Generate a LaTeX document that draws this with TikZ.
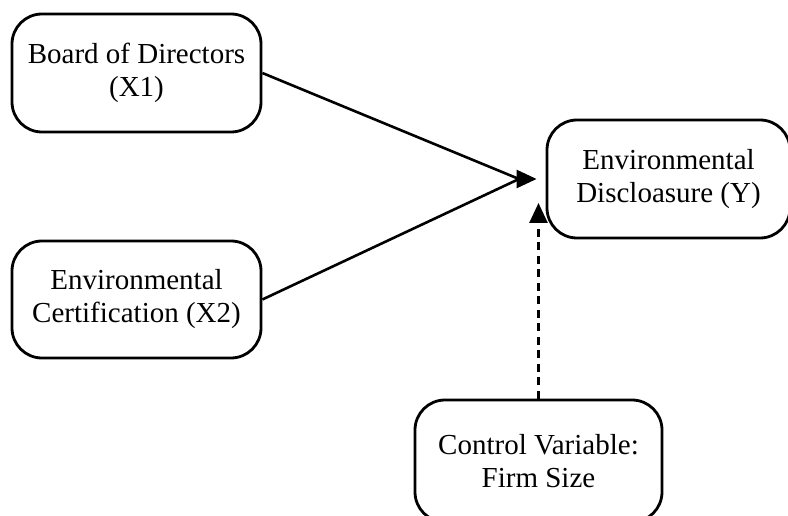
\documentclass[tikz,border=0pt]{standalone}
\usepackage{fontspec}
\setmainfont{Liberation Serif}
\usetikzlibrary{arrows.meta}
\begin{document}
\begin{tikzpicture}[x=1pt,y=-1pt,
  varbox/.style={draw=black, line width=2.8pt, rounded corners=30pt, align=center,
    font=\fontsize{29pt}{33pt}\selectfont, inner sep=0pt},
  link/.style={line width=2.6pt},
  dashlink/.style={line width=2.6pt, dash pattern=on 8pt off 5.5pt},
  tip/.style={-{Triangle[length=20pt,width=18pt]}}
]
\useasboundingbox (0,0) rectangle (788,516);
\clip (0,0) rectangle (788,516);
\node[varbox, minimum width=249pt, minimum height=118pt] (b1) at (136.5,73) {Board of Directors\\(X1)};
\node[varbox, minimum width=249pt, minimum height=117pt] (b2) at (136.5,299.5) {Environmental\\Certification (X2)};
\node[varbox, minimum width=243pt, minimum height=118pt] (y) at (668.5,179) {Environmental\\Discloasure (Y)};
\node[varbox, minimum width=247pt, minimum height=122pt] (c) at (538.5,461) {Control Variable:\\Firm Size};
\coordinate (join) at (519,179);
\coordinate (ctip) at (538.5,203);
\draw[link] (b1.east) -- (join);
\draw[link] (b2.east) -- (join);
\draw[link, tip] (join) -- ([xshift=-9pt]y.west);
\draw[dashlink, tip] (c.north) -- (ctip);
\end{tikzpicture}
\end{document}
